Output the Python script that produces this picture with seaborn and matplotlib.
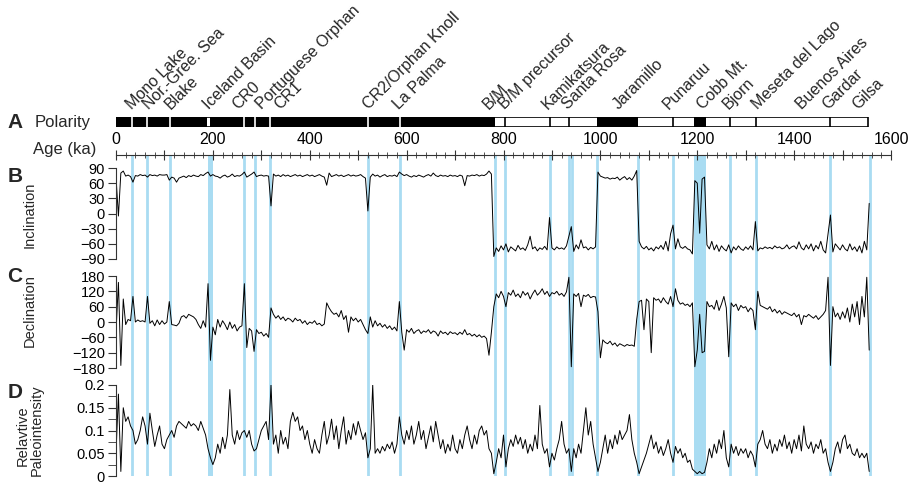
import numpy as np
import pandas as pd
import seaborn as sns
import matplotlib.pyplot as plt

# sample ages (ka), one every 5 ka
age = np.arange(0, 1560, 5)

# inclination (deg), one row per 100 ka
inclination = [
    72, -5, 80, 84, 74, 76, 73, 62, 75, 74, 77, 75, 76, 72, 77, 75, 76, 74, 77, 76,
    76, 77, 66, 72, 70, 62, 70, 72, 74, 71, 75, 73, 76, 74, 73, 77, 75, 79, 82, 74,
    77, 74, 73, 70, 74, 76, 72, 74, 78, 73, 75, 74, 77, 82, 72, 75, 78, 82, 73, 75,
    76, 74, 75, 74, 15, 78, 74, 76, 73, 77, 74, 76, 73, 75, 77, 74, 76, 73, 75, 77,
    74, 76, 73, 75, 77, 74, 72, 56, 80, 73, 75, 77, 74, 76, 73, 75, 77, 74, 76, 74,
    75, 77, 73, 70, 5, 72, 78, 74, 76, 72, 75, 77, 73, 75, 74, 76, 73, 82, 78, 75,
    77, 74, 72, 75, 73, 76, 74, 72, 75, 77, 74, 80, 75, 73, 76, 74, 75, 73, 76, 74,
    75, 73, 76, 74, 55, 75, 74, 76, 75, 77, 74, 76, 75, 78, 84, 78, -85, -68, -75, -64,
    -72, -60, -76, -66, -70, -74, -63, -71, -68, -73, -62, -45, -70, -66, -74, -68, -71, -65, -72, -8,
    -68, -72, -66, -70, -68, -71, -64, -45, -26, -75, -62, -70, -52, -68, -66, -72, -67, -70, -66, 82,
    74, 72, 70, 71, 68, 70, 69, 72, 66, 70, 73, 67, 71, 66, 74, 85, -55, -66, -70, -65,
    -72, -68, -74, -66, -70, -63, -71, -55, -74, -40, -23, -70, -50, -66, -69, -65, -70, -72, -80, 65,
    60, -39, 68, 72, -62, -70, -55, -72, -62, -75, -64, -70, -74, -62, -78, -66, -72, -64, -70, -73,
    -66, -71, -64, -72, -16, -74, -68, -70, -66, -69, -67, -70, -64, -68, -66, -70, -68, -62, -70, -66,
    -64, -70, -56, -68, -72, -62, -70, -60, -74, -63, -70, -55, -72, -78, -40, -3, -76, -60, -66, -72,
    -62, -70, -74, -60, -72, -66, -75, -64, -78, -55, -72, 20,
]

# declination (deg)
declination = [
    -40, 155, -170, 90, -10, 10, 5, 100, 0, 8, 2, 5, 0, 100, -5, 5, -15, 8, -10, 5,
    -8, 0, 80, -10, -12, -15, -5, 20, 25, 15, 30, 25, 20, 10, -10, -25, 5, -20, 150, -150,
    -20, -50, 10, -20, 5, -10, -30, 0, -25, -10, -35, -20, -15, 150, -100, -25, -35, -115, -30, -45,
    -40, -55, -45, -60, 55, 30, 15, 25, 10, 20, 5, 15, 10, 0, 15, 5, 10, -5, 5, -10,
    0, -5, 5, -10, -5, -15, -8, 75, 55, 40, 30, 35, 20, 45, 10, 25, -40, 20, 5, 15,
    0, 10, -10, -30, -45, 20, -20, 5, -15, -5, -20, -10, -25, -15, -30, -20, -35, 80, -40, -110,
    -30, -40, -25, -45, -35, -30, -45, -35, -40, -30, -45, -35, -40, -55, -35, -45, -40, -50, -38, -45,
    -42, -50, -40, -48, -30, -50, -45, -55, -48, -58, -50, -60, -55, -65, -130, -40, 60, 110, 95, 120,
    100, 60, 115, 105, 125, 100, 110, 95, 120, 105, 115, 90, 110, 125, 105, 115, 130, 108, 120, 100,
    115, 110, 120, 105, 112, 100, 118, 175, -175, 110, 100, 112, 60, 105, 100, 108, 95, 100, 98, 40,
    -140, -70, -80, -85, -75, -90, -82, -95, -85, -90, -95, -88, -92, -90, -95, 10, 80, 85, -30, 90,
    80, -120, 95, 85, 90, 75, 95, 80, 70, 100, 60, 130, 85, 70, 75, 65, 70, 60, 75, -175,
    -110, 30, -120, -115, 80, 60, 65, 50, 85, 45, 70, 100, 55, -136, 75, 60, 70, 45, 65, 55,
    60, 40, 55, 45, -30, 120, 65, 60, 55, 50, 60, 40, 50, 35, 45, 30, 40, 35, 30, 25,
    35, 20, 30, -10, 25, 20, 30, 22, 15, 25, 10, 20, 30, 45, 175, -170, 60, 20, 35, 10,
    40, 15, 55, 0, 70, 20, 80, -10, 100, 20, 175, -110,
]

# relative paleointensity
paleointensity = [
    0.05, 0.18, 0.01, 0.15, 0.12, 0.13, 0.11, 0.10, 0.07, 0.08, 0.10, 0.13, 0.11, 0.07, 0.138, 0.10, 0.065, 0.09, 0.11, 0.07,
    0.06, 0.08, 0.09, 0.10, 0.085, 0.11, 0.12, 0.115, 0.11, 0.105, 0.12, 0.11, 0.115, 0.11, 0.10, 0.12, 0.105, 0.09, 0.06, 0.04,
    0.025, 0.04, 0.07, 0.05, 0.085, 0.06, 0.09, 0.19, 0.09, 0.07, 0.10, 0.08, 0.095, 0.10, 0.085, 0.10, 0.07, 0.055, 0.06, 0.08,
    0.10, 0.11, 0.12, 0.08, 0.20, 0.07, 0.09, 0.05, 0.10, 0.07, 0.085, 0.06, 0.12, 0.14, 0.12, 0.13, 0.10, 0.11, 0.08, 0.10,
    0.07, 0.05, 0.08, 0.06, 0.05, 0.09, 0.12, 0.07, 0.09, 0.125, 0.08, 0.11, 0.06, 0.10, 0.13, 0.07, 0.10, 0.08, 0.115, 0.09,
    0.12, 0.10, 0.08, 0.095, 0.04, 0.06, 0.20, 0.05, 0.06, 0.05, 0.065, 0.055, 0.07, 0.06, 0.075, 0.05, 0.07, 0.13, 0.09, 0.07,
    0.10, 0.08, 0.11, 0.07, 0.09, 0.12, 0.08, 0.10, 0.06, 0.085, 0.11, 0.075, 0.12, 0.09, 0.06, 0.08, 0.05, 0.07, 0.055, 0.09,
    0.06, 0.05, 0.08, 0.06, 0.09, 0.11, 0.08, 0.06, 0.09, 0.07, 0.10, 0.11, 0.09, 0.10, 0.06, 0.05, 0.005, 0.03, 0.06, 0.04,
    0.09, 0.02, 0.06, 0.08, 0.065, 0.09, 0.07, 0.085, 0.06, 0.08, 0.05, 0.07, 0.055, 0.09, 0.06, 0.155, 0.07, 0.05, 0.06, 0.02,
    0.05, 0.035, 0.06, 0.08, 0.12, 0.07, 0.05, 0.06, 0.01, 0.06, 0.04, 0.07, 0.05, 0.10, 0.15, 0.09, 0.12, 0.07, 0.04, 0.01,
    0.03, 0.06, 0.09, 0.05, 0.08, 0.06, 0.09, 0.07, 0.10, 0.08, 0.09, 0.10, 0.135, 0.08, 0.05, 0.03, 0.005, 0.02, 0.035, 0.05,
    0.07, 0.09, 0.06, 0.075, 0.05, 0.065, 0.045, 0.06, 0.08, 0.05, 0.03, 0.065, 0.05, 0.06, 0.04, 0.05, 0.03, 0.035, 0.015, 0.01,
    0.005, 0.01, 0.005, 0.008, 0.03, 0.06, 0.04, 0.07, 0.05, 0.08, 0.06, 0.10, 0.04, 0.02, 0.07, 0.05, 0.065, 0.045, 0.06, 0.05,
    0.06, 0.04, 0.055, 0.045, 0.02, 0.07, 0.08, 0.10, 0.07, 0.06, 0.08, 0.05, 0.07, 0.055, 0.08, 0.065, 0.09, 0.06, 0.075, 0.05,
    0.08, 0.06, 0.09, 0.055, 0.11, 0.07, 0.06, 0.075, 0.05, 0.07, 0.06, 0.08, 0.05, 0.06, 0.03, 0.01, 0.03, 0.06, 0.075, 0.05,
    0.08, 0.09, 0.06, 0.07, 0.05, 0.045, 0.06, 0.04, 0.05, 0.04, 0.05, 0.01,
]

# polarity chrons (ka): start, end, normal=1
chron_start = [0, 188, 194, 782, 994, 1078, 1193, 1218]
chron_end = [188, 194, 782, 994, 1078, 1193, 1218, 1553]
chron_normal = [1, 0, 1, 0, 1, 0, 1, 0]
white_ticks = [34, 65, 112, 265, 287, 318, 521, 587]   # excursions inside black chrons
black_ticks = [804, 895, 935, 1149, 1267, 1322, 1474]  # excursions inside white chrons

# excursions: names and where the label starts
event_names = ["Mono Lake", "Nor.-Gree. Sea", "Blake", "Iceland Basin", "CR0",
               "Portuguese Orphan", "CR1", "CR2/Orphan Knoll", "La Palma", "B/M",
               "B/M precursor", "Kamikatsura", "Santa Rosa", "Jaramillo", "Punaruu",
               "Cobb Mt.", "Bjorn", "Meseta del Lago", "Buenos Aires", "Gardar", "Gilsa"]
label_age = [38, 73, 118, 196, 256, 306, 343, 526, 588, 773, 808, 896, 938,
             1043, 1146, 1216, 1270, 1329, 1421, 1474, 1537]

# blue marker lines and bands (ka)
line_ages = [34, 65, 112, 265, 287, 318, 521, 587, 782, 804, 895, 935, 942,
             994, 1078, 1149, 1267, 1322, 1474, 1556]
band_start = [189, 1193]
band_end = [200, 1218]

df = pd.DataFrame({'age': age, 'inc': inclination, 'dec': declination, 'rpi': paleointensity})

sns.set_style('white')
plt.rcParams['font.family'] = ['Liberation Sans', 'DejaVu Sans']

W, H = 913, 483
fig = plt.figure(figsize=(W / 100, H / 100), dpi=100)
blue = '#a9dcf2'
X0, X1 = 116, 891


def px_axes(x0, y0, x1, y1):
    return fig.add_axes([x0 / W, 1 - y1 / H, (x1 - x0) / W, (y1 - y0) / H])


# blue lines behind everything
bg = px_axes(X0, 155, X1, 476)
bg.set_xlim(0, 1600)
bg.set_ylim(0, 1)
bg.axis('off')
for a in line_ages:
    bg.axvline(a, color=blue, lw=2)
for s, e in zip(band_start, band_end):
    bg.axvspan(s, e, color=blue, lw=0)

# polarity bar
axA = px_axes(X0, 117, X1, 127)
axA.set_xlim(0, 1600)
axA.set_ylim(0, 1)
axA.axis('off')
for s, e, n in zip(chron_start, chron_end, chron_normal):
    axA.barh(0.5, e - s, left=s, height=1, color='black' if n else 'white', lw=0)
axA.vlines(white_ticks, 0, 1, colors='white', lw=1.2)
axA.vlines(black_ticks, 0, 1, colors='black', lw=1.2)
axA.barh(0.5, chron_end[-1], left=0, height=1, fill=False, edgecolor='black', lw=1.2)
for name, a in zip(event_names, label_age):
    axA.text(a, 1.5, name, rotation=45, rotation_mode='anchor', ha='left',
             va='bottom', fontsize=11.5, transform=axA.get_xaxis_transform())

# age axis
axT = px_axes(X0, 155, X1, 155.5)
axT.set_xlim(0, 1600)
axT.patch.set_alpha(0)
for side in ['left', 'right', 'bottom']:
    axT.spines[side].set_visible(False)
axT.spines['top'].set_color('#333333')
axT.set_yticks([])
axT.set_xticks(range(0, 1601, 100))
axT.set_xticks(range(0, 1601, 20), minor=True)
axT.set_xticklabels([str(t) if t % 200 == 0 else '' for t in range(0, 1601, 100)])
axT.tick_params(axis='x', which='both', top=True, bottom=False, labeltop=True,
                labelbottom=False, direction='inout', colors='#333333', labelcolor='black')
axT.tick_params(axis='x', which='major', length=7, labelsize=11.5, pad=2)
axT.tick_params(axis='x', which='minor', length=4)

# data panels
panels = [
    ('inc', 168, 259, (-90, 90), list(range(-90, 91, 30)), None),
    ('dec', 276, 368, (-180, 180), list(range(-180, 181, 60)), None),
    ('rpi', 385, 476, (0, 0.2), [0, 0.05, 0.1, 0.15, 0.2], [0.025, 0.075, 0.125, 0.175]),
]
for col, y0, y1, ylim, ticks, minor in panels:
    ax = px_axes(X0, y0, X1, y1)
    sns.lineplot(data=df, x='age', y=col, ax=ax, color='black', lw=0.7)
    ax.set_xlim(0, 1600)
    ax.set_ylim(*ylim)
    ax.patch.set_alpha(0)
    for side in ['top', 'right', 'bottom']:
        ax.spines[side].set_visible(False)
    ax.spines['left'].set_color('#333333')
    ax.set_xticks([])
    ax.set_yticks(ticks)
    if col == 'rpi':
        ax.set_yticklabels(['0', '0.05', '0.1', '0.15', '0.2'])
        ax.set_yticks(minor, minor=True)
    ax.set_xlabel('')
    ax.set_ylabel('')
    ax.tick_params(axis='y', which='both', left=True, direction='out', length=6,
                   colors='#333333', labelcolor='black', labelsize=10.5, pad=2)

# panel letters and titles
for letter, y in zip('ABCD', [122, 177, 276, 393]):
    fig.text(15 / W, 1 - y / H, letter, fontsize=15, fontweight='bold', ha='center', va='center')
fig.text(35 / W, 1 - 123 / H, 'Polarity', fontsize=12, ha='left', va='center')
fig.text(33 / W, 1 - 150 / H, 'Age (ka)', fontsize=12, ha='left', va='center')
fig.text(30 / W, 1 - 215 / H, 'Inclination', fontsize=10.5, rotation=90, ha='center', va='center')
fig.text(30 / W, 1 - 311 / H, 'Declination', fontsize=10.5, rotation=90, ha='center', va='center')
fig.text(23 / W, 1 - 436 / H, 'Relavtive', fontsize=10.5, rotation=90, ha='center', va='center')
fig.text(37 / W, 1 - 430 / H, 'Paleointensity', fontsize=10.5, rotation=90, ha='center', va='center')

fig.savefig('out.png', dpi=100)
